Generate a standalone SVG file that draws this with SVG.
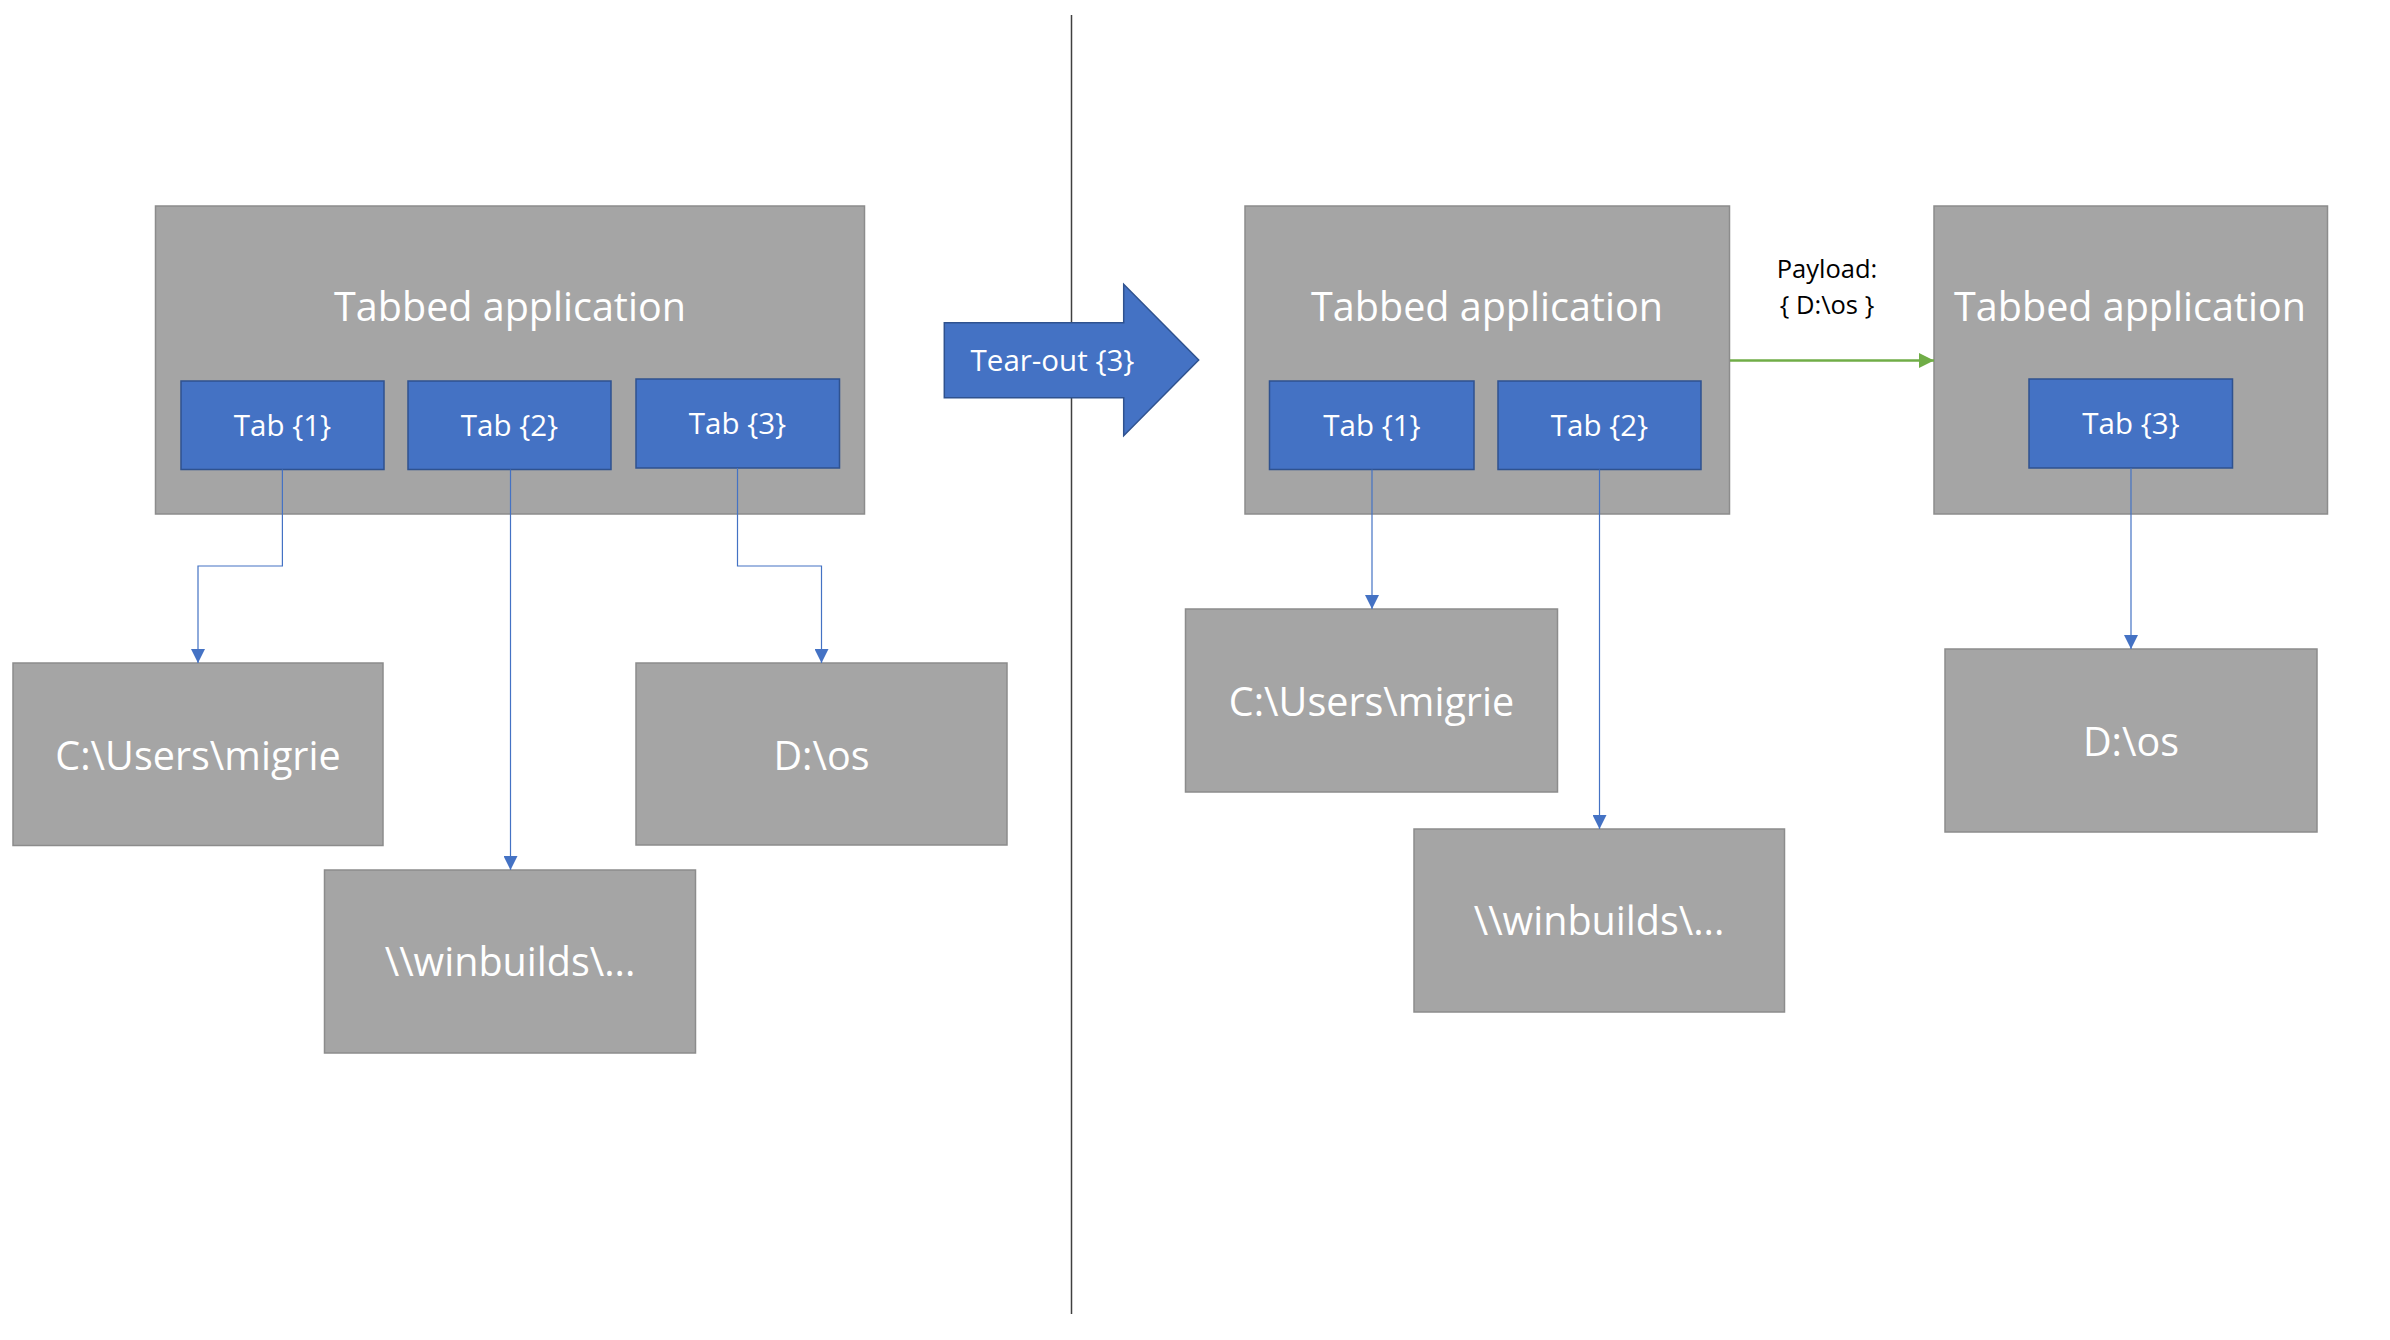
<svg xmlns="http://www.w3.org/2000/svg" width="2390" height="1340" viewBox="0 0 2390 1340">
<defs>
<style>
.box{fill:#A5A5A5;stroke:#8C8C8C;stroke-width:1.5}
.tab{fill:#4472C4;stroke:#2F528F;stroke-width:1.5}
.t{font-family:"Open Sans","Noto Sans","Liberation Sans",sans-serif;fill:#FFFFFF;text-anchor:middle}
.big{font-size:39.5px}
.sm{font-size:29.5px}
.con{fill:none;stroke:#4472C4;stroke-width:1.2}
.pay{font-family:"Open Sans","Noto Sans","Liberation Sans",sans-serif;fill:#000000;font-size:25.5px;text-anchor:middle}
</style>
<marker id="ab" markerUnits="userSpaceOnUse" markerWidth="14" markerHeight="14" viewBox="0 0 14 14" refX="14" refY="7" orient="auto">
<path d="M0,0 L14,7 L0,14 z" fill="#4472C4"/>
</marker>
<marker id="ag" markerUnits="userSpaceOnUse" markerWidth="15" markerHeight="15" viewBox="0 0 15 15" refX="15" refY="7.5" orient="auto">
<path d="M0,0 L15,7.5 L0,15 z" fill="#70AD47"/>
</marker>
</defs>
<rect width="2390" height="1340" fill="#FFFFFF"/>
<line x1="1071.5" y1="15" x2="1071.5" y2="1314" stroke="#404040" stroke-width="1.5"/>

<g id="left-app">
<rect class="box" x="155.5" y="206" width="709" height="308"/>
<text class="t big" x="510" y="321">Tabbed application</text>
</g>
<g id="left-tab1">
<rect class="tab" x="181" y="381" width="203" height="88.5"/>
<text class="t sm" x="282.5" y="436">Tab {1}</text>
</g>
<g id="left-tab2">
<rect class="tab" x="408" y="381" width="203" height="88.5"/>
<text class="t sm" x="509.5" y="436">Tab {2}</text>
</g>
<g id="left-tab3">
<rect class="tab" x="636" y="379" width="203.5" height="89"/>
<text class="t sm" x="737.5" y="434">Tab {3}</text>
</g>
<g id="left-c">
<rect class="box" x="13" y="663" width="370" height="182.5"/>
<text class="t big" x="198" y="770">C:\Users\migrie</text>
</g>
<g id="left-d">
<rect class="box" x="636" y="663" width="371" height="182"/>
<text class="t big" x="821.5" y="770">D:\os</text>
</g>
<g id="left-w">
<rect class="box" x="324.5" y="870" width="371" height="183"/>
<text class="t big" x="510" y="976">\\winbuilds\...</text>
</g>

<g id="tearout">
<path d="M944.3,322.7 L1123.7,322.7 L1123.7,284.3 L1198.7,360 L1123.7,435.7 L1123.7,397.7 L944.3,397.7 z" fill="#4472C4" stroke="#2F528F" stroke-width="1.5"/>
<text class="t sm" x="1052.5" y="371">Tear-out {3}</text>
</g>

<g id="right-app1">
<rect class="box" x="1245" y="206" width="484.5" height="308"/>
<text class="t big" x="1487" y="321">Tabbed application</text>
</g>
<g id="right-tab1">
<rect class="tab" x="1269.5" y="381" width="204.5" height="88.5"/>
<text class="t sm" x="1372" y="436">Tab {1}</text>
</g>
<g id="right-tab2">
<rect class="tab" x="1498" y="381" width="203" height="88.5"/>
<text class="t sm" x="1599.5" y="436">Tab {2}</text>
</g>
<g id="right-app2">
<rect class="box" x="1934" y="206" width="393.5" height="308"/>
<text class="t big" x="2130" y="321">Tabbed application</text>
</g>
<g id="right-tab3">
<rect class="tab" x="2029" y="379" width="203.5" height="89"/>
<text class="t sm" x="2131" y="434">Tab {3}</text>
</g>
<g id="right-c">
<rect class="box" x="1185.5" y="609" width="372" height="183"/>
<text class="t big" x="1371.5" y="716">C:\Users\migrie</text>
</g>
<g id="right-w">
<rect class="box" x="1414" y="829" width="370.5" height="183"/>
<text class="t big" x="1599" y="935">\\winbuilds\...</text>
</g>
<g id="right-d">
<rect class="box" x="1945" y="649" width="372" height="183"/>
<text class="t big" x="2131" y="756">D:\os</text>
</g>

<g id="connectors">
<path class="con" d="M282.4,469.5 V566 H198 V663" marker-end="url(#ab)"/>
<path class="con" d="M510.5,469.5 V870" marker-end="url(#ab)"/>
<path class="con" d="M737.5,468 V566 H821.5 V663" marker-end="url(#ab)"/>
<path class="con" d="M1372,469.5 V609" marker-end="url(#ab)"/>
<path class="con" d="M1599.5,469.5 V829" marker-end="url(#ab)"/>
<path class="con" d="M2131,468 V649" marker-end="url(#ab)"/>
<path d="M1730,360.5 H1934" fill="none" stroke="#70AD47" stroke-width="2.5" marker-end="url(#ag)"/>
</g>
<g id="payload-label">
<text class="pay" x="1827" y="278">Payload:</text>
<text class="pay" x="1827" y="314">{ D:\os }</text>
</g>
</svg>
